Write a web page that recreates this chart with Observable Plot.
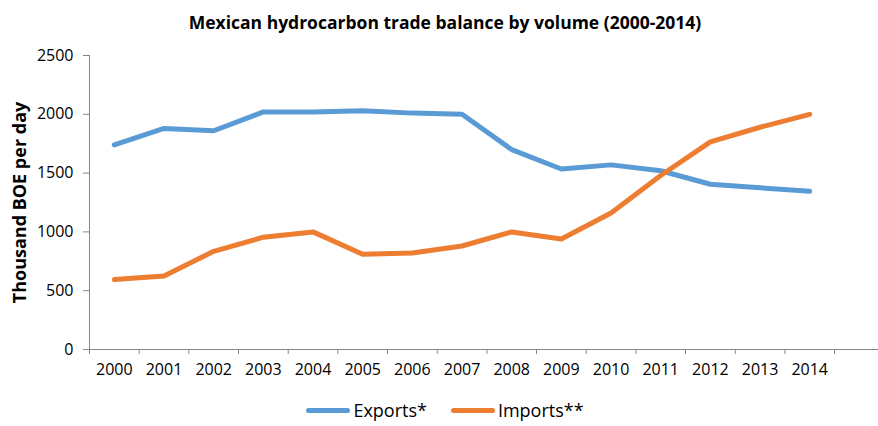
<!DOCTYPE html>
<html>
<head>
<meta charset="utf-8">
<script src="https://cdn.jsdelivr.net/npm/d3@7"></script>
<script src="https://cdn.jsdelivr.net/npm/@observablehq/plot@0.6"></script>
<style>
  html, body { margin: 0; padding: 0; background: #fff; }
  body { width: 878px; height: 426px; overflow: hidden; font-family: "Open Sans", sans-serif; }
  #legend { height: 30px; display: flex; justify-content: center; align-items: center; font-size: 18px; color: #000; padding-left: 12px; }
  .item { display: flex; align-items: center; margin: 0 12px; }
  .sw { width: 44px; height: 5px; border-radius: 3px; margin-right: 3px; }
</style>
</head>
<body>
<div id="chart"></div>
<div id="legend"></div>
<script>
const title = "Mexican hydrocarbon trade balance by volume (2000-2014)";
const yLabel = "Thousand BOE per day";
const years = [2000, 2001, 2002, 2003, 2004, 2005, 2006, 2007, 2008, 2009, 2010, 2011, 2012, 2013, 2014];
const exportsSeries = [1740, 1880, 1860, 2020, 2020, 2030, 2010, 2000, 1700, 1535, 1570, 1520, 1405, 1375, 1345];
const importsSeries = [595, 625, 835, 955, 1000, 810, 820, 880, 1000, 940, 1160, 1480, 1765, 1890, 2000];
const yTicks = [0, 500, 1000, 1500, 2000, 2500];
const seriesNames = ["Exports*", "Imports**"];
const seriesColors = ["#5B9BD5", "#ED7D31"];

const rows = [];
years.forEach((yr, i) => {
  rows.push({year: yr, value: exportsSeries[i], series: seriesNames[0]});
});
years.forEach((yr, i) => {
  rows.push({year: yr, value: importsSeries[i], series: seriesNames[1]});
});

const xMin = years[0] - 0.5;
const xMax = xMin + (878 - 89) / 49.67;
const boundaries = years.map(y => y - 0.5).concat([years[years.length - 1] + 0.5]);

const plot = Plot.plot({
  width: 878,
  height: 395,
  marginLeft: 89,
  marginRight: 0,
  marginTop: 55,
  marginBottom: 46,
  style: {fontFamily: "'Open Sans', sans-serif", fontSize: "16px", color: "#000", background: "#fff"},
  x: {type: "linear", domain: [xMin, xMax], axis: null},
  y: {domain: [0, 2500], axis: null},
  color: {domain: seriesNames, range: seriesColors},
  marks: [
    Plot.axisY({ticks: yTicks, tickSize: 6, tickPadding: 10, tickFormat: d => String(d), stroke: "#868686", label: null, fontSize: 16}),
    Plot.ruleX([xMin], {stroke: "#868686"}),
    Plot.ruleY([0], {stroke: "#868686"}),
    Plot.axisX({ticks: boundaries, tickSize: 5, tickFormat: () => "", stroke: "#868686", label: null}),
    Plot.axisX({ticks: years, tickSize: 0, tickPadding: 14, tickFormat: d => String(d), label: null, fontSize: 16}),
    Plot.line(rows, {x: "year", y: "value", z: "series", stroke: "series", strokeWidth: 5, strokeLinejoin: "round", strokeLinecap: "round"}),
    Plot.text([title], {frameAnchor: "top", dy: -39, dx: -39, text: d => d, fontWeight: "bold", fontSize: 17.5, fill: "#000"}),
    Plot.text([yLabel], {frameAnchor: "left", textAnchor: "middle", dx: -69, rotate: -90, text: d => d, fontWeight: "bold", fontSize: 18, fill: "#000"})
  ]
});
document.getElementById("chart").appendChild(plot);

const legend = document.getElementById("legend");
seriesNames.forEach((name, i) => {
  const item = document.createElement("div");
  item.className = "item";
  const sw = document.createElement("div");
  sw.className = "sw";
  sw.style.background = seriesColors[i];
  const lab = document.createElement("span");
  lab.textContent = name;
  item.appendChild(sw);
  item.appendChild(lab);
  legend.appendChild(item);
});
</script>
</body>
</html>
